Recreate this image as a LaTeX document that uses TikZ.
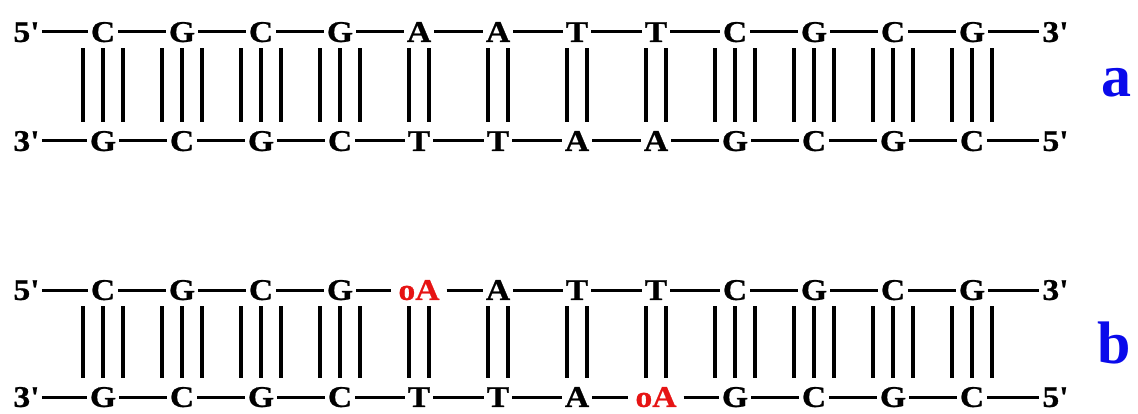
\documentclass[tikz,border=0pt]{standalone}
\usepackage{fontspec}
\setmainfont{Liberation Serif}
\newfontfamily\dnafont{Liberation Serif}[FakeStretch=1.12,BoldFeatures={FakeBold=0.8}]
\definecolor{modred}{RGB}{230,20,20}
\definecolor{labelblue}{RGB}{10,10,235}
\newcommand\dnabonds[3]{%
  \ifnum#3=3
    \foreach \dx in {-20,0,20}{\draw[bond] ([xshift=\dx pt,yshift=-6pt]#1.south) -- ([xshift=\dx pt,yshift=9pt]#2.north);}%
  \else
    \foreach \dx in {-10,10}{\draw[bond] ([xshift=\dx pt,yshift=-6pt]#1.south) -- ([xshift=\dx pt,yshift=9pt]#2.north);}%
  \fi}
\begin{document}
\begin{tikzpicture}[x=1pt,y=1pt,
  base/.style={font=\dnafont\bfseries\fontsize{30}{30}\selectfont, inner xsep=3pt, inner ysep=0pt, text height=19.8pt, text depth=0pt, anchor=center},
  mod/.style={base, text=modred, inner xsep=7pt},
  strand/.style={line width=3pt},
  bond/.style={line width=3.5pt},
  panellabel/.style={font=\bfseries\fontsize{60}{60}\selectfont, text=labelblue, anchor=base, inner sep=0pt}]
\useasboundingbox (0,0) rectangle (1138,413);
% ---------- panel a ----------
\foreach \s/\st [count=\i from 0] in {C/base,G/base,C/base,G/base,A/base,A/base,T/base,T/base,C/base,G/base,C/base,G/base}
  \node[style=\st] (ta\i) at (103+79*\i,381) {\s};
\foreach \s/\st [count=\i from 0] in {G/base,C/base,G/base,C/base,T/base,T/base,A/base,A/base,G/base,C/base,G/base,C/base}
  \node[style=\st] (ba\i) at (103+79*\i,272) {\s};
\node[base] (ta5p) at (26,381) {5\textquotesingle};
\node[base] (ta3p) at (1055,381) {3\textquotesingle};
\node[base] (ba3p) at (26,272) {3\textquotesingle};
\node[base] (ba5p) at (1055,272) {5\textquotesingle};
\draw[strand] (ta5p) -- (ta0);
\draw[strand] (ta11) -- (ta3p);
\draw[strand] (ba3p) -- (ba0);
\draw[strand] (ba11) -- (ba5p);
\foreach \i [evaluate=\i as \j using int(\i+1)] in {0,...,10}{
  \draw[strand] (ta\i) -- (ta\j);
  \draw[strand] (ba\i) -- (ba\j);}
\foreach \i/\n in {0/3,1/3,2/3,3/3,4/2,5/2,6/2,7/2,8/3,9/3,10/3,11/3}
  {\dnabonds{ta\i}{ba\i}{\n}}
\node[panellabel] (la) at (1116,316) {a};
% ---------- panel b ----------
\foreach \s/\st [count=\i from 0] in {C/base,G/base,C/base,G/base,oA/mod,A/base,T/base,T/base,C/base,G/base,C/base,G/base}
  \node[style=\st] (tb\i) at (103+79*\i,123) {\s};
\foreach \s/\st [count=\i from 0] in {G/base,C/base,G/base,C/base,T/base,T/base,A/base,oA/mod,G/base,C/base,G/base,C/base}
  \node[style=\st] (bb\i) at (103+79*\i,16) {\s};
\node[base] (tb5p) at (26,123) {5\textquotesingle};
\node[base] (tb3p) at (1055,123) {3\textquotesingle};
\node[base] (bb3p) at (26,16) {3\textquotesingle};
\node[base] (bb5p) at (1055,16) {5\textquotesingle};
\draw[strand] (tb5p) -- (tb0);
\draw[strand] (tb11) -- (tb3p);
\draw[strand] (bb3p) -- (bb0);
\draw[strand] (bb11) -- (bb5p);
\foreach \i [evaluate=\i as \j using int(\i+1)] in {0,...,10}{
  \draw[strand] (tb\i) -- (tb\j);
  \draw[strand] (bb\i) -- (bb\j);}
\foreach \i/\n in {0/3,1/3,2/3,3/3,4/2,5/2,6/2,7/2,8/3,9/3,10/3,11/3}
  {\dnabonds{tb\i}{bb\i}{\n}}
\node[panellabel] (lb) at (1114,50) {b};
\end{tikzpicture}
\end{document}
